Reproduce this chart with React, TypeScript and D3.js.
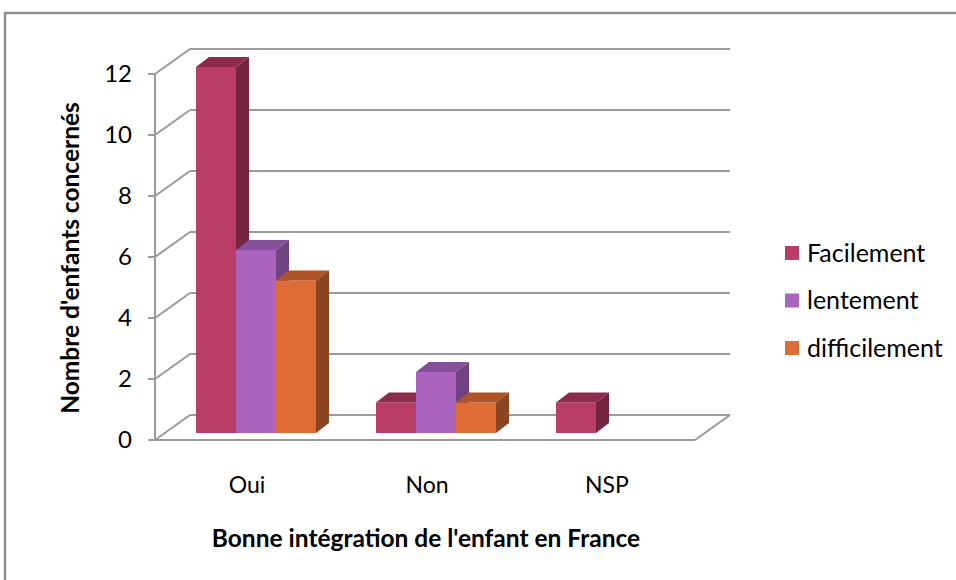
import React from "react";
import * as d3 from "d3";

// Chart data
const CATEGORIES = ["Oui", "Non", "NSP"];
const SERIES = ["Facilement", "lentement", "difficilement"];
const FACILEMENT = [12, 1, 1];
const LENTEMENT = [6, 2, 0];
const DIFFICILEMENT = [5, 1, 0];
const Y_TICKS = [0, 2, 4, 6, 8, 10, 12];

// front / top / side shades per series
const COLORS = [
  { front: "#b93d66", top: "#8e2b4d", side: "#762540" },
  { front: "#ab64bd", top: "#85509a", side: "#6e4380" },
  { front: "#e06c35", top: "#b05427", side: "#8c4421" },
];

const FONT = "Lato, 'Noto Sans', sans-serif";
const GRID = "#9a9a9a";

export default function App() {
  const width = 956;
  const height = 580;

  // front plane of the plot box
  const x0 = 155;
  const x1 = 695;
  const y = d3.scaleLinear().domain([0, 12]).range([440, 74]);
  // depth of the box (back wall offset)
  const dX = 35;
  const dY = -25;
  // bars sit a bit behind the front plane, with their own depth
  const bX = 11;
  const bY = -7;
  const depthX = 13;
  const depthY = -10;

  const x = d3.scaleBand<string>().domain(CATEGORIES).range([x0, x1]);
  const inner = d3
    .scaleBand<string>()
    .domain(SERIES)
    .range([0, x.bandwidth()])
    .paddingInner(0)
    .paddingOuter(0.75);

  const values = [FACILEMENT, LENTEMENT, DIFFICILEMENT];

  const bars: { key: string; s: number; c: string; v: number }[] = [];
  CATEGORIES.forEach((c, ci) => {
    SERIES.forEach((s, si) => {
      const v = values[si][ci];
      if (v > 0) bars.push({ key: `${c}-${s}`, s: si, c, v });
    });
  });

  const pts = (p: [number, number][]) => p.map((q) => q.join(",")).join(" ");

  return (
    <svg
      width={width}
      height={height}
      style={{ position: "absolute", left: 0, top: 0, background: "#fff" }}
      fontFamily={FONT}
    >
      {/* chart frame */}
      <rect x={5} y={13} width={width + 10} height={height + 10} fill="#fff" stroke="#8f8f8f" strokeWidth={2.5} />

      {/* back wall gridlines and side wall diagonals */}
      {Y_TICKS.map((t) => (
        <g key={t}>
          <line x1={x0 + dX} x2={x1 + dX} y1={y(t) + dY} y2={y(t) + dY} stroke={GRID} strokeWidth={2} />
          <line x1={x0} x2={x0 + dX} y1={y(t)} y2={y(t) + dY} stroke={GRID} strokeWidth={2} />
          <line x1={x0 - 7} x2={x0} y1={y(t)} y2={y(t)} stroke={GRID} strokeWidth={2} />
          <text x={132} y={y(t)} dy="0.35em" textAnchor="end" fontSize={24} fill="#000">
            {t}
          </text>
        </g>
      ))}
      {/* floor */}
      <line x1={x0} x2={x1} y1={y(0)} y2={y(0)} stroke={GRID} strokeWidth={2} />
      <line x1={x1} x2={x1 + dX} y1={y(0)} y2={y(0) + dY} stroke={GRID} strokeWidth={2} />
      {/* value axis */}
      <line x1={x0} x2={x0} y1={y(0)} y2={y(12)} stroke={GRID} strokeWidth={2} />

      {/* bars */}
      {bars.map((b) => {
        const left = (x(b.c) ?? 0) + (inner(SERIES[b.s]) ?? 0) + bX;
        const right = left + inner.bandwidth();
        const base = y(0) + bY;
        const top = y(b.v) + bY;
        const col = COLORS[b.s];
        return (
          <g key={b.key}>
            <rect x={left} y={top} width={right - left} height={base - top} fill={col.front} />
            <polygon
              points={pts([
                [left, top],
                [right, top],
                [right + depthX, top + depthY],
                [left + depthX, top + depthY],
              ])}
              fill={col.top}
            />
            <polygon
              points={pts([
                [right, top],
                [right + depthX, top + depthY],
                [right + depthX, base + depthY],
                [right, base],
              ])}
              fill={col.side}
            />
          </g>
        );
      })}

      {/* category labels */}
      {CATEGORIES.map((c) => (
        <text key={c} x={(x(c) ?? 0) + x.bandwidth() / 2 + 2} y={485} dy="0.35em" textAnchor="middle" fontSize={23}>
          {c}
        </text>
      ))}

      {/* axis titles */}
      <text x={426} y={538} dy="0.35em" textAnchor="middle" fontSize={24.5} fontWeight="bold">
        Bonne intégration de l'enfant en France
      </text>
      <text
        transform={`translate(70,258) rotate(-90)`}
        dy="0.35em"
        textAnchor="middle"
        fontSize={24.5}
        fontWeight="bold"
      >
        Nombre d'enfants concernés
      </text>

      {/* legend */}
      {SERIES.map((s, i) => {
        const cy = 253 + i * 47.5;
        return (
          <g key={s}>
            <rect x={785} y={cy - 7} width={14} height={14} fill={COLORS[i].front} />
            <text x={807} y={cy} dy="0.35em" fontSize={25}>
              {s}
            </text>
          </g>
        );
      })}
    </svg>
  );
}
